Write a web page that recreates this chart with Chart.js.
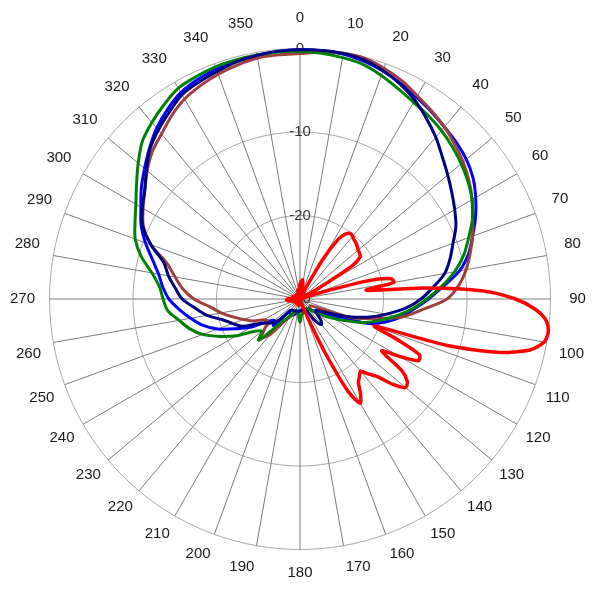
<!DOCTYPE html>
<html>
<head>
<meta charset="utf-8">
<script src="https://cdn.jsdelivr.net/npm/chart.js@4/dist/chart.umd.min.js"></script>
<style>
html,body{margin:0;padding:0;background:#ffffff;}
#wrap{width:600px;height:600px;}
</style>
</head>
<body>
<div id="wrap"><canvas id="c" width="600" height="600"></canvas></div>
<script>
// Angle tick labels (degrees), every 10 deg
const degreeTicks = ['0','10','20','30','40','50','60','70','80','90','100','110','120','130','140','150','160','170',
  '180','190','200','210','220','230','240','250','260','270','280','290','300','310','320','330','340','350'];

// Radial scale (dB)
const dbMin = -30;
const dbMax = 0;
const dbStep = 10;

// Red series, sampled every 2.5 deg (0 ... 357.5)
const redGain = [
  -28.2,-28,-27.8,-27.7,-28,-28.6,-29.2,-29.7,-30,-30,-29.8,-28.5,          // 0 - 27.5
  -24.5,-21.6,-20.5,-20.1,-20.2,-20.4,-20.5,-20.7,-20.9,-21.0,-21.2,-22.5,  // 30 - 57.5
  -27.5,-29.8,-30,-30,-29.8,-27.5,-21.5,-18.8,-18.6,-22,-15,-8,             // 60 - 87.5
  -4.2,-1.8,-0.4,0,-0.3,-1.8,-5.3,-11.5,-20.5,-17.5,-14.2,-14.0,            // 90 - 117.5
  -16.3,-18.4,-15.2,-13.8,-13.5,-14.8,-16.8,-17.8,-18.7,-18.3,-17.8,-16.5,  // 120 - 147.5
  -15.6,-17.5,-23,-27.5,-29.5,-29.8,-30,-29.8,-29.5,-29.3,-29.5,-29.8,      // 150 - 177.5
  -30,-29.8,-29.5,-29.2,-29.4,-29.8,-30,-30,-29.8,-29.5,-29.3,-29.5,        // 180 - 207.5
  -29.8,-30,-30,-29.8,-29.6,-29.4,-29.3,-29.5,-29.8,-30,-30,-29.8,          // 210 - 237.5
  -29.5,-29.3,-29.2,-29.4,-29.6,-29.5,-29.2,-28.9,-28.7,-28.5,-28.4,-28.4,  // 240 - 267.5
  -28.5,-28.8,-29.2,-29.6,-29.8,-29.6,-29.3,-29.1,-29.2,-29.5,-29.8,-30,    // 270 - 297.5
  -30,-29.8,-29.5,-29.3,-29.4,-29.7,-30,-30,-29.8,-29.5,-29.3,-29.4,        // 300 - 327.5
  -29.7,-30,-30,-29.8,-29.5,-29.2,-29,-28.9,-29,-29.2,-29,-28.6             // 330 - 357.5
];

// Other series, sampled every 5 deg (0 ... 355)
const greenGain = [
  -0.35,-0.45,-0.65,-0.9,-1.5,-2.2,-2.8,-3.2,-3.65,-4.2,-4.8,-5.45,         // 0 - 55
  -6.2,-7.2,-8.5,-9.7,-11.2,-13.0,-14.8,-16.5,-18.3,-20.1,-21.8,-23.8,      // 60 - 115
  -25.4,-26.5,-27.5,-28,-28.5,-28.6,-28.6,-28.6,-28.5,-28.4,-28.2,-28,      // 120 - 175
  -27.2,-28,-28.5,-28.5,-28.5,-28.2,-27.7,-27,-26,-23.0,-24.0,-23.2,        // 180 - 235
  -21.2,-19.4,-17.6,-16.3,-15.3,-14.1,-13.6,-13.1,-12.0,-10.3,-9.0,-8.2,    // 240 - 295
  -7.3,-6.1,-4.7,-3.3,-2.4,-1.6,-0.85,-0.6,-0.4,-0.35,-0.32,-0.3            // 300 - 355
];
const blueGain = [
  -0.15,-0.15,-0.2,-0.5,-0.95,-1.5,-2.1,-2.6,-3.1,-3.5,-4.0,-4.7,
  -5.7,-6.8,-8.0,-9.1,-10.6,-12.8,-14.6,-16.3,-17.7,-19.4,-21.5,-24.8,
  -26.5,-27.3,-27.8,-28.2,-28.5,-28.5,-28.6,-28.6,-28.6,-28.6,-28.5,-28.5,
  -28.5,-28.4,-28.3,-28.2,-28.0,-27.9,-27.8,-27.9,-28.1,-25.5,-26.0,-25.3,
  -23.3,-21.6,-19.5,-17.9,-16.7,-15.5,-14.3,-13.5,-12.8,-11.7,-10.3,-9.0,
  -8.0,-6.8,-5.7,-4.5,-3.3,-2.3,-1.45,-1.0,-0.7,-0.5,-0.4,-0.25
];
const navyGain = [
  -0.15,-0.12,-0.15,-0.35,-0.9,-1.6,-2.5,-3.6,-4.7,-5.9,-6.9,-7.8,
  -8.6,-9.4,-10.5,-11.4,-12.4,-14.0,-15.5,-17.3,-19.5,-21.6,-23.8,-25.8,
  -27,-27.6,-27.5,-26.5,-26,-26.8,-28.3,-28.6,-28.7,-28.7,-28.7,-28.6,
  -28.6,-28.5,-28.5,-28.5,-28.5,-28.4,-28.4,-28.4,-28.2,-26.5,-25.5,-25,
  -24,-22.3,-21.4,-20.4,-18.7,-17.4,-15.9,-15.0,-14.0,-13.1,-11.0,-9.2,
  -8.2,-7.3,-6.0,-4.6,-3.6,-2.7,-1.75,-1.35,-1.0,-0.6,-0.35,-0.2
];
const brownGain = [
  -0.6,-0.3,-0.12,-0.15,-0.6,-1.15,-1.9,-2.5,-3.1,-3.8,-4.5,-5.3,
  -6.2,-7.2,-8.0,-8.9,-9.8,-10.9,-12.4,-15.3,-17.6,-21.0,-23.5,-27.2,
  -28.3,-28.5,-28.5,-28.5,-28.5,-28.5,-28.5,-28.5,-28.5,-28.5,-28.5,-28.5,
  -28.5,-28.5,-28.5,-28.5,-28.5,-28,-27.5,-26.8,-24.5,-23.5,-24.5,-25.3,
  -25.0,-23.8,-22.8,-21.7,-20.4,-19.2,-17.3,-15.9,-14.8,-13.5,-11.0,-9.3,
  -8.3,-7.3,-6.1,-5.0,-4.2,-3.2,-2.35,-1.8,-1.35,-1.0,-0.7,-0.65
];

const FONT = "'Liberation Sans', Arial, sans-serif";

// Build the 2.5-deg category axis from the 10-deg tick labels
const labels = [];
for (let i = 0; i < redGain.length; i++) labels.push(i % 4 === 0 ? degreeTicks[i / 4] : '');
// 5-deg series placed on the 2.5-deg axis (gaps spanned)
const onFineAxis = arr => { const out = []; arr.forEach(v => { out.push(v); out.push(null); }); return out; };

function ds(label, data, color, width, tension) {
  return { label, data, borderColor: color, backgroundColor: 'rgba(0,0,0,0)', borderWidth: width,
           fill: false, tension, spanGaps: true, pointRadius: 0, pointHoverRadius: 0, pointHitRadius: 0 };
}

const chart = new Chart(document.getElementById('c'), {
  type: 'radar',
  data: {
    labels,
    datasets: [
      ds('red', redGain, '#ff0000', 3.5, 0.25),
      ds('navy', onFineAxis(navyGain), '#000080', 3, 0.3),
      ds('green', onFineAxis(greenGain), '#008000', 3, 0.3),
      ds('brown', onFineAxis(brownGain), '#a0403c', 3, 0.3),
      ds('blue', onFineAxis(blueGain), '#0000ff', 3, 0.3)
    ]
  },
  options: {
    responsive: false,
    animation: false,
    devicePixelRatio: 1,
    layout: { padding: { left: 8, right: 11, top: 5, bottom: 14 } },
    plugins: { legend: { display: false }, tooltip: { enabled: false } },
    scales: {
      r: {
        min: dbMin, max: dbMax,
        ticks: { stepSize: dbStep, color: '#333333', font: { family: FONT, size: 15 },
                 showLabelBackdrop: false, backdropPadding: 2 },
        grid: { color: '#a8a8a8', lineWidth: 1 },
        angleLines: {
          color: ctx => (ctx.index % 4 === 0 ? '#7a7a7a' : 'rgba(0,0,0,0)'),
          lineWidth: ctx => (ctx.index % 4 === 0 ? 1 : 0)
        },
        pointLabels: {
          color: '#1a1a1a',
          font: { family: FONT, size: 15 },
          padding: ctx => {
            const lab = ctx.label || '';
            const th = ctx.index * 2.5 * Math.PI / 180;
            const w = lab.length * 8.34, h = 18;
            const half = (w / 2) * Math.abs(Math.sin(th)) + (h / 2) * Math.abs(Math.cos(th));
            return Math.max(0, 17.5 - half + 3.5 * Math.cos(th));
          }
        }
      }
    }
  }
});
</script>
</body>
</html>
